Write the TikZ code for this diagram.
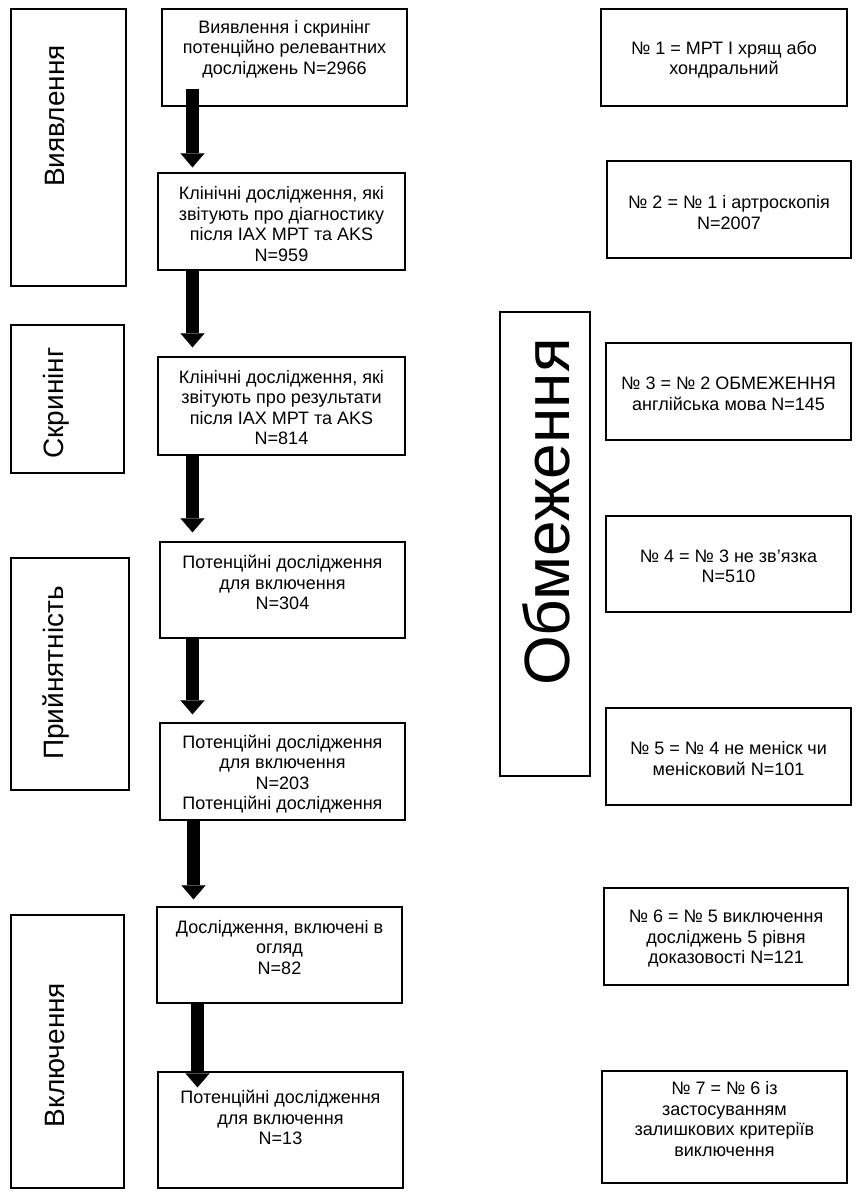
\documentclass[tikz,border=0pt]{standalone}
\usepackage{fontspec}
\setmainfont{Liberation Sans}
\usetikzlibrary{arrows.meta}
\begin{document}
\begin{tikzpicture}[x=1pt,y=-1pt,
  frame/.style={draw, line width=1.3pt, inner sep=0pt},
  txt/.style={align=center, font=\fontsize{18}{20.5}\selectfont, inner sep=0pt},
  lbl/.style={rotate=90, font=\fontsize{28}{32}\selectfont, inner sep=0pt},
  big/.style={rotate=90, font=\fontsize{64}{70}\selectfont, inner sep=0pt},
  flow/.style={line width=13pt, -{Triangle[width=24pt,length=14pt,line width=0.1pt]}}
]
\useasboundingbox[fill=white] (0,0) rectangle (860,1200);

% left stage labels
\node[frame, minimum width=115pt, minimum height=277pt] (L1) at (68.5,147.5) {};
\node[lbl] (l1) at (55,116) {Виявлення};
\node[frame, minimum width=113pt, minimum height=148pt] (L2) at (67.5,399) {};
\node[lbl] (l2) at (56,403) {Скринінг};
\node[frame, minimum width=118pt, minimum height=232pt] (L3) at (70,674) {};
\node[lbl] (l3) at (56,673) {Прийнятність};
\node[frame, minimum width=113pt, minimum height=273pt] (L4) at (67.5,1051.5) {};
\node[lbl] (l4) at (55,1055) {Включення};

% main column
\node[frame, minimum width=245pt, minimum height=97pt] (b1) at (284.5,57.5) {};
\node[txt] (t1) at (284.5,49) {Виявлення і скринінг\\потенційно релевантних\\досліджень N=2966};
\node[frame, minimum width=247pt, minimum height=97pt] (b2) at (281.5,221.5) {};
\node[txt] (t2) at (281.5,224) {Клінічні дослідження, які\\звітують про діагностику\\після IAX МРТ та AKS\\N=959};
\node[frame, minimum width=247pt, minimum height=98pt] (b3) at (281.5,406) {};
\node[txt] (t3) at (281.5,407.5) {Клінічні дослідження, які\\звітують про результати\\після IAX МРТ та AKS\\N=814};
\node[frame, minimum width=245pt, minimum height=96pt] (b4) at (282.5,590) {};
\node[txt] (t4) at (282.5,582.5) {Потенційні дослідження\\для включення\\N=304};
\node[frame, minimum width=245pt, minimum height=97pt] (b5) at (282.5,771.5) {};
\node[txt] (t5) at (282.5,774) {Потенційні дослідження\\для включення\\N=203\\Потенційні дослідження};
\node[frame, minimum width=245pt, minimum height=96pt] (b6) at (279.5,955) {};
\node[txt] (t6) at (279.5,947.5) {Дослідження, включені в\\огляд\\N=82};
\node[frame, minimum width=245pt, minimum height=116pt] (b7) at (280.5,1130) {};
\node[txt] (t7) at (280.5,1117.5) {Потенційні дослідження\\для включення\\N=13};

% arrows
\draw[flow] ([xshift=-92pt,yshift=18pt]b1.south) -- ([xshift=-89pt,yshift=5pt]b2.north);
\draw[flow] ([xshift=-89pt]b2.south) -- ([xshift=-89pt,yshift=9pt]b3.north);
\draw[flow] ([xshift=-89pt]b3.south) -- ([xshift=-90pt,yshift=9pt]b4.north);
\draw[flow] ([xshift=-90pt]b4.south) -- ([xshift=-90pt,yshift=8pt]b5.north);
\draw[flow] ([xshift=-89pt]b5.south) -- ([xshift=-86pt,yshift=7pt]b6.north);
\draw[flow] ([xshift=-82pt]b6.south) -- ([xshift=-83pt,yshift=-16pt]b7.north);

% restriction label
\node[frame, minimum width=90pt, minimum height=464pt] (O) at (545,544) {};
\node[big] (o) at (546,512) {Обмеження};

% right column
\node[frame, minimum width=246pt, minimum height=97pt] (r1) at (724,57.5) {};
\node[txt] (s1) at (724,60) {№ 1 = МРТ І хрящ або\\хондральний};
\node[frame, minimum width=244pt, minimum height=97pt] (r2) at (729,209.5) {};
\node[txt] (s2) at (729,212.5) {№ 2 = № 1 і артроскопія\\N=2007};
\node[frame, minimum width=245pt, minimum height=97pt] (r3) at (728.5,391.5) {};
\node[txt] (s3) at (728.5,394) {№ 3 = № 2 ОБМЕЖЕННЯ\\англійська мова N=145};
\node[frame, minimum width=245pt, minimum height=96pt] (r4) at (728.5,564) {};
\node[txt] (s4) at (728.5,566.5) {№ 4 = № 3 не зв’язка\\N=510};
\node[frame, minimum width=245pt, minimum height=97pt] (r5) at (728.5,756.5) {};
\node[txt] (s5) at (728.5,758.5) {№ 5 = № 4 не меніск чи\\менісковий N=101};
\node[frame, minimum width=244pt, minimum height=97pt] (r6) at (726,936.5) {};
\node[txt] (s6) at (726,938.5) {№ 6 = № 5 виключення\\досліджень 5 рівня\\доказовості N=121};
\node[frame, minimum width=245pt, minimum height=112pt] (r7) at (724.5,1127) {};
\node[txt] (s7) at (724.5,1119) {№ 7 = № 6 із\\застосуванням\\залишкових критеріїв\\виключення};
\end{tikzpicture}
\end{document}
